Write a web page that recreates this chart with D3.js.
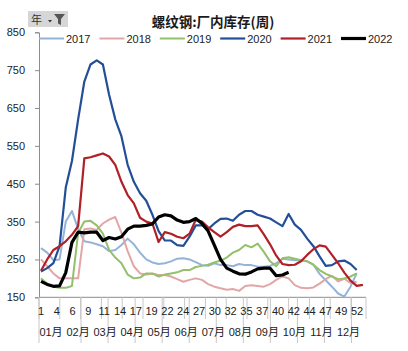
<!DOCTYPE html>
<html><head><meta charset="utf-8">
<script src="https://cdn.jsdelivr.net/npm/d3@7"></script>
<style>
body{margin:0;background:#fff;}
text{font-family:"Liberation Sans","Noto Sans CJK SC",sans-serif;}
</style></head>
<body><svg id="c" width="408" height="351"></svg>
<script>
const years = ["2017","2018","2019","2020","2021","2022"];
const colors = ["#95b3d7","#e3a6a6","#93c06a","#234f98","#b11f27","#000000"];
const widths = [2,2,2,2.2,2.2,3.2];
const s2017 = [280,268,248,250,350,378,330,298,295,290,285,272,275,288,305,290,268,250,242,238,240,245,252,253,250,243,235,233,240,235,235,232,238,235,235,231,231,233,240,252,250,248,248,245,236,212,195,178,160,152,178,213];
const s2018 = [250,232,213,200,200,200,200,330,332,328,345,355,362,320,272,232,213,210,212,209,209,205,198,191,196,200,196,185,178,174,170,172,167,180,182,180,178,185,196,205,200,182,175,174,176,186,198,207,192,199,188,191];
const s2019 = [200,186,178,175,175,180,320,350,352,340,318,275,255,240,210,200,202,213,213,205,210,213,216,222,222,230,233,236,242,247,255,268,275,288,282,292,270,245,232,253,256,252,248,245,236,222,212,205,198,200,205,213];
const s2020 = [218,227,240,285,440,510,620,720,765,776,765,685,620,575,500,455,425,405,368,325,300,300,288,286,310,340,340,330,345,357,358,352,368,378,378,368,363,358,348,338,370,342,328,305,285,258,233,235,245,247,238,222];
const s2021 = [220,250,275,285,298,315,338,517,520,525,530,522,500,455,420,398,360,350,345,296,322,318,310,306,318,355,350,335,322,310,322,336,342,338,338,340,316,290,260,238,235,236,245,262,277,287,284,262,240,215,194,180,183];
const s2022 = [192,184,179,180,215,295,322,320,322,322,300,308,304,310,330,338,338,340,344,362,368,365,354,348,350,358,345,325,288,250,227,219,212,211,217,225,227,227,207,209,216];
const series = [s2017,s2018,s2019,s2020,s2021,s2022];
const yTicks = [150,250,350,450,550,650,750,850];
const weekLabels = ["1","4","6","9","11","14","17","19","22","24","27","30","32","35","37","40","42","44","47","49","52"];
const monthLabels = ["01月","02月","03月","04月","05月","06月","07月","08月","09月","10月","11月","12月"];
const title = "螺纹钢:厂内库存(周)";

const svg = d3.select("#c");
const x = d3.scaleLinear().domain([1,53]).range([41,362.9]);
const y = d3.scaleLinear().domain([150,850]).range([297.3,32.3]);
const xl = d3.scalePoint().domain(weekLabels).range([41,357]);
const xm = d3.scalePoint().domain(monthLabels).range([51,348.5]);
const axisColor = "#8c8c8c";

// title
svg.append("text").attr("x",213).attr("y",27).attr("text-anchor","middle")
  .attr("font-size",13.5).attr("font-weight","bold").style("font-family","'Noto Sans CJK SC',sans-serif")
  .attr("fill","#1a1a1a").text(title);

// filter button
const fb = svg.append("g");
fb.append("rect").attr("x",28).attr("y",11).attr("width",40).attr("height",16).attr("fill","#d6d6d6");
fb.append("text").attr("x",31).attr("y",23.5).attr("font-size",11).attr("fill","#333").style("font-family","'Noto Sans CJK SC',sans-serif").text("年");
fb.append("path").attr("d","M48,20 h4 l-2,2.5 z").attr("fill","#333");
fb.append("path").attr("d","M54,14 h11 l-4,5 v6 l-3,-1.5 v-4.5 z").attr("fill","#555");

// y axis
const ya = svg.append("g").attr("transform","translate(39,0)")
  .call(d3.axisLeft(y).tickValues(yTicks).tickSize(4).tickPadding(10).tickFormat(d3.format("d")));
ya.select(".domain").attr("stroke",axisColor);
ya.selectAll(".tick line").attr("stroke",axisColor);
ya.selectAll(".tick text").attr("font-size",11).attr("fill","#222").style("font-family","'Liberation Sans',sans-serif");

// x axis line
svg.append("line").attr("x1",39).attr("x2",366).attr("y1",y(150)).attr("y2",y(150)).attr("stroke",axisColor);
// week-row ticks
const tickStep = (xl("52")-xl("1"))/ (weekLabels.length-1) * 1.3165;
d3.range(0,16).forEach(k=>{
  svg.append("line").attr("x1",39+k*tickStep).attr("x2",39+k*tickStep).attr("y1",y(150)).attr("y2",319).attr("stroke","#c8c8c8");
});
svg.append("line").attr("x1",366).attr("x2",366).attr("y1",y(150)).attr("y2",319).attr("stroke","#c8c8c8");
// month-row separators
const mSep = [39].concat(monthLabels.slice(1).map(m=>xm(m)+3));
mSep.forEach(px=>{
  svg.append("line").attr("x1",px).attr("x2",px).attr("y1",y(150)).attr("y2",343).attr("stroke","#c8c8c8");
});
// week labels
svg.append("g").selectAll("text").data(weekLabels).join("text")
  .attr("x",d=>xl(d)).attr("y",315).attr("text-anchor","middle").attr("font-size",11).attr("fill","#222").text(d=>d);
// month labels
svg.append("g").selectAll("text").data(monthLabels).join("text")
  .attr("x",d=>xm(d)).attr("y",335.5).attr("text-anchor","middle").attr("font-size",11).attr("fill","#222").text(d=>d);

// lines
const line = d3.line().x((d,i)=>x(i+1)).y(d=>y(d));
series.forEach((s,i)=>{
  svg.append("path").datum(s).attr("d",line).attr("fill","none")
    .attr("stroke",colors[i]).attr("stroke-width",widths[i]).attr("stroke-linejoin","round");
});

// legend
const lg = d3.scaleLinear().domain([0,5]).range([39,341]);
years.forEach((yr,i)=>{
  svg.append("line").attr("x1",lg(i)).attr("x2",lg(i)+25).attr("y1",38.5).attr("y2",38.5)
    .attr("stroke",colors[i]).attr("stroke-width",widths[i]);
  svg.append("text").attr("x",lg(i)+27).attr("y",42.5).attr("font-size",11).attr("fill","#222").text(yr);
});
</script></body></html>
